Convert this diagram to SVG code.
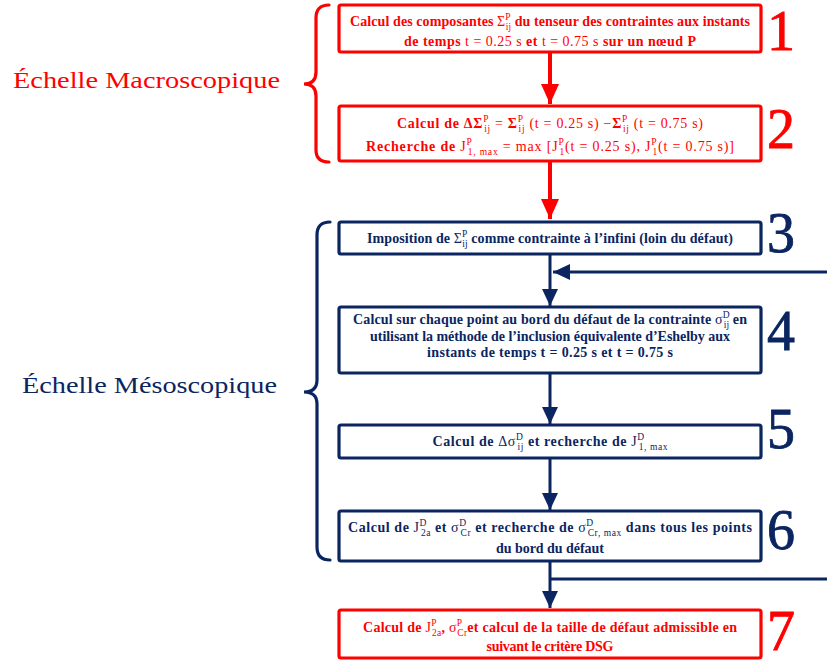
<svg xmlns="http://www.w3.org/2000/svg" width="827" height="661" viewBox="0 0 827 661">
<defs>
<style>
.bg{fill:#ffffff}
.boxR{fill:#ffffff;stroke:#ff0000;stroke-width:3.2}
.boxB{fill:#ffffff;stroke:#0b2561;stroke-width:3.2}
.t{font-family:"Liberation Serif","DejaVu Serif",serif;font-size:14px;font-weight:bold;text-anchor:middle}
.tr{fill:#ff0000}
.tb{fill:#0b2561}
.m{font-weight:normal}
.s{font-size:9.5px;font-weight:normal}
.num{font-family:"Liberation Serif","DejaVu Serif",serif;font-size:56px;stroke-width:0.8}
.numR{fill:#ff0000;stroke:#ff0000}
.numB{fill:#0b2561;stroke:#0b2561}
.lab{font-family:"Liberation Serif","DejaVu Serif",serif;font-size:24px}
.cR{stroke:#ff0000;stroke-width:4;fill:none}
.cB{stroke:#0b2561;stroke-width:3;fill:none}
.brR{stroke:#ff0000;stroke-width:3.2;fill:none;stroke-linecap:round}
.brB{stroke:#0b2561;stroke-width:3.2;fill:none;stroke-linecap:round}
</style>
<marker id="ahR" viewBox="0 0 20 18" refX="20" refY="9" markerWidth="20" markerHeight="18" markerUnits="userSpaceOnUse" orient="auto"><path d="M0,0 L20,9 L0,18 z" fill="#ff0000"/></marker>
<marker id="ahB" viewBox="0 0 17 16" refX="17" refY="8" markerWidth="17" markerHeight="16" markerUnits="userSpaceOnUse" orient="auto"><path d="M0,0 L17,8 L0,16 z" fill="#0b2561"/></marker>
</defs>
<rect class="bg" x="0" y="0" width="827" height="661"/>

<g id="connectors">
<line class="cR" x1="550" y1="52" x2="550" y2="104" marker-end="url(#ahR)"/>
<line class="cR" x1="550" y1="161" x2="550" y2="219" marker-end="url(#ahR)"/>
<line class="cB" x1="550" y1="254" x2="550" y2="306" marker-end="url(#ahB)"/>
<line class="cB" x1="827" y1="272" x2="553" y2="272" marker-end="url(#ahB)"/>
<line class="cB" x1="550" y1="373" x2="550" y2="424" marker-end="url(#ahB)"/>
<line class="cB" x1="550" y1="458" x2="550" y2="510" marker-end="url(#ahB)"/>
<line class="cB" x1="550" y1="561" x2="550" y2="608" marker-end="url(#ahB)"/>
<line class="cB" x1="550" y1="579" x2="827" y2="579"/>
</g>

<g id="scale-macro">
<path class="brR" d="M329,5 Q316,5 316,18 L316,72 Q316,84 304,84 Q316,84 316,96 L316,150 Q316,162 329,162"/>
<text class="lab tr" x="13" y="88" textLength="267" lengthAdjust="spacingAndGlyphs">Échelle Macroscopique</text>
</g>

<g id="scale-meso">
<path class="brB" d="M330,222 Q317,222 317,235 L317,380 Q317,392 304,392 Q317,392 317,404 L317,547 Q317,560 330,560"/>
<text class="lab tb" x="22" y="393" textLength="255" lengthAdjust="spacingAndGlyphs">Échelle Mésoscopique</text>
</g>

<g id="step1">
<rect class="boxR" x="339" y="5" width="422" height="47" rx="2"/>
<text class="t tr" x="550" y="26" textLength="400">Calcul des composantes <tspan class="m">Σ</tspan><tspan class="s" dy="-6">P</tspan><tspan class="s" dx="-5" dy="10">ij</tspan><tspan dy="-4"> du tenseur des contraintes aux instants</tspan></text>
<text class="t tr" x="550" y="46" textLength="292">de temps <tspan class="m">t = 0.25 s</tspan>  et <tspan class="m">t = 0.75 s</tspan>  sur un nœud P</text>
<text class="num numR" x="767" y="50">1</text>
</g>

<g id="step2">
<rect class="boxR" x="339" y="106" width="422" height="55" rx="2"/>
<text class="t tr" x="550" y="128" textLength="306">Calcul de ΔΣ<tspan class="s" dy="-6">P</tspan><tspan class="s" dx="-5" dy="10">ij</tspan><tspan class="m" dy="-4"> = </tspan>Σ<tspan class="s" dy="-6">P</tspan><tspan class="s" dx="-5" dy="10">ij</tspan><tspan class="m" dy="-4">  (t = 0.25 s) −</tspan>Σ<tspan class="s" dy="-6">P</tspan><tspan class="s" dx="-5" dy="10">ij</tspan><tspan class="m" dy="-4">  (t = 0.75 s)</tspan></text>
<text class="t tr" x="550" y="151" textLength="368">Recherche de <tspan class="m">J</tspan><tspan class="s" dy="-6">P</tspan><tspan class="s" dx="-5" dy="10">1, max</tspan><tspan class="m" dy="-4"> = max [J</tspan><tspan class="s" dy="-6">P</tspan><tspan class="s" dx="-5" dy="10">1</tspan><tspan class="m" dy="-4">(t = 0.25 s), J</tspan><tspan class="s" dy="-6">P</tspan><tspan class="s" dx="-5" dy="10">1</tspan><tspan class="m" dy="-4">(t = 0.75 s)]</tspan></text>
<text class="num numR" x="767" y="148">2</text>
</g>

<g id="step3">
<rect class="boxB" x="339" y="222" width="422" height="32" rx="2"/>
<text class="t tb" x="550" y="243" textLength="366">Imposition de <tspan class="m">Σ</tspan><tspan class="s" dy="-6">P</tspan><tspan class="s" dx="-5" dy="10">ij</tspan><tspan dy="-4"> comme contrainte à l’infini (loin du défaut)</tspan></text>
<text class="num numB" x="767" y="252">3</text>
</g>

<g id="step4">
<rect class="boxB" x="339" y="307" width="422" height="66" rx="2"/>
<text class="t tb" x="550" y="324" textLength="394">Calcul sur chaque point au bord du défaut de la contrainte <tspan class="m">σ</tspan><tspan class="s" dy="-6">D</tspan><tspan class="s" dx="-6" dy="10">ij</tspan><tspan dy="-4"> en</tspan></text>
<text class="t tb" x="550" y="341" textLength="360">utilisant la méthode de l’inclusion équivalente d’Eshelby aux</text>
<text class="t tb" x="550" y="357" textLength="246">instants de temps t = 0.25 s et t = 0.75 s</text>
<text class="num numB" x="767" y="350">4</text>
</g>

<g id="step5">
<rect class="boxB" x="339" y="425" width="422" height="33" rx="2"/>
<text class="t tb" x="550" y="446" textLength="235">Calcul de <tspan class="m">Δσ</tspan><tspan class="s" dy="-6">D</tspan><tspan class="s" dx="-6" dy="10">ij</tspan><tspan dy="-4"> et recherche de </tspan><tspan class="m">J</tspan><tspan class="s" dy="-6">D</tspan><tspan class="s" dx="-6" dy="10">1, max</tspan></text>
<text class="num numB" x="767" y="448">5</text>
</g>

<g id="step6">
<rect class="boxB" x="339" y="511" width="422" height="50" rx="2"/>
<text class="t tb" x="550" y="532" textLength="404">Calcul de <tspan class="m">J</tspan><tspan class="s" dy="-6">D</tspan><tspan class="s" dx="-6" dy="10">2a</tspan><tspan dy="-4"> et </tspan><tspan class="m">σ</tspan><tspan class="s" dy="-6">D</tspan><tspan class="s" dx="-6" dy="10">Cr</tspan><tspan dy="-4"> et recherche de </tspan><tspan class="m">σ</tspan><tspan class="s" dy="-6">D</tspan><tspan class="s" dx="-6" dy="10">Cr, max</tspan><tspan dy="-4"> dans tous les points</tspan></text>
<text class="t tb" x="550" y="553" textLength="108">du bord du défaut</text>
<text class="num numB" x="767" y="549">6</text>
</g>

<g id="step7">
<rect class="boxR" x="339" y="610" width="422" height="48" rx="2"/>
<text class="t tr" x="550" y="632" textLength="374">Calcul de <tspan class="m">J</tspan><tspan class="s" dy="-6">P</tspan><tspan class="s" dx="-5" dy="10">2a</tspan><tspan dy="-4">, </tspan><tspan class="m">σ</tspan><tspan class="s" dy="-6">P</tspan><tspan class="s" dx="-5" dy="10">Cr</tspan><tspan dy="-4">et calcul de la taille de défaut admissible en</tspan></text>
<text class="t tr" x="550" y="651" textLength="127">suivant le critère DSG</text>
<text class="num numR" x="767" y="650">7</text>
</g>
</svg>
